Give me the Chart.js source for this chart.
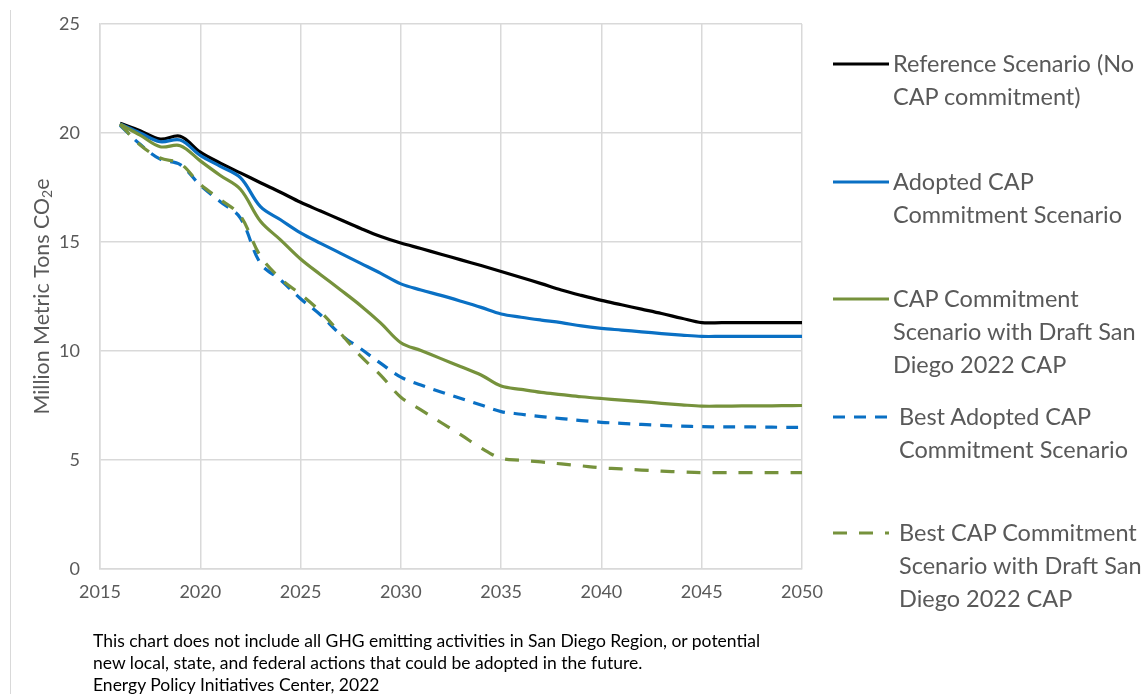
<!DOCTYPE html>
<html>
<head>
<meta charset="utf-8">
<script src="https://cdn.jsdelivr.net/npm/chart.js@4/dist/chart.umd.min.js"></script>
<style>
  html, body { margin: 0; padding: 0; background: #ffffff; }
  #wrap { position: relative; width: 1146px; height: 694px; overflow: hidden; font-family: Lato, "Open Sans", sans-serif; color: #595959; }
  #edge { position: absolute; left: 10px; top: 10px; height: 700px; border-left: 1px solid #d9d9d9; }
  #chart { position: absolute; left: 0; top: 0; }
  .entry { position: absolute; left: 833px; font-size: 23.5px; line-height: 33px; white-space: nowrap; }
  .entry svg { position: absolute; left: 0; top: 13px; }
  .entry .txt { position: absolute; left: 60px; top: 0; }
  .entry.dashed .txt { left: 66px; }
  #note { position: absolute; left: 93px; top: 630px; font-size: 17.5px; line-height: 22px; color: #000000; white-space: nowrap; }
</style>
</head>
<body>
<div id="wrap">
  <div id="edge"></div>
  <canvas id="chart" width="1146" height="694"></canvas>
  <div id="legend"></div>
  <div id="note"></div>
</div>
<script>
// Annual emissions, million metric tons CO2e, San Diego region
const years = [
  2016, 2017, 2018, 2019, 2020, 2021, 2022, 2023, 2024, 2025,
  2026, 2027, 2028, 2029, 2030, 2031, 2032, 2033, 2034, 2035,
  2036, 2037, 2038, 2039, 2040, 2041, 2042, 2043, 2044, 2045,
  2046, 2047, 2048, 2049, 2050
];

const referenceScenario = [
  20.45, 20.10, 19.72, 19.85, 19.12, 18.62, 18.17, 17.72, 17.28, 16.82,
  16.42, 16.02, 15.62, 15.25, 14.95, 14.70, 14.44, 14.18, 13.92, 13.65,
  13.37, 13.09, 12.80, 12.55, 12.32, 12.12, 11.92, 11.72, 11.50, 11.30,
  11.30, 11.30, 11.30, 11.30, 11.30
];

const adoptedCap = [
  20.42, 20.00, 19.60, 19.68, 18.97, 18.47, 17.95, 16.62, 16.02, 15.42,
  14.94, 14.48, 14.02, 13.56, 13.08, 12.80, 12.55, 12.28, 12.00, 11.70,
  11.55, 11.42, 11.30, 11.15, 11.04, 10.96, 10.88, 10.80, 10.73, 10.67,
  10.67, 10.67, 10.67, 10.67, 10.67
];

const draftCap = [
  20.40, 19.90, 19.37, 19.42, 18.72, 18.05, 17.42, 15.95, 15.10, 14.22,
  13.50, 12.80, 12.08, 11.28, 10.38, 10.02, 9.65, 9.28, 8.90, 8.39,
  8.24, 8.10, 8.00, 7.90, 7.82, 7.75, 7.68, 7.60, 7.53, 7.47,
  7.47, 7.48, 7.48, 7.49, 7.50
];

const bestAdoptedCap = [
  20.35, 19.48, 18.80, 18.55, 17.60, 16.85, 16.10, 14.02, 13.26, 12.40,
  11.65, 10.75, 10.10, 9.43, 8.80, 8.44, 8.12, 7.82, 7.52, 7.22,
  7.10, 6.99, 6.90, 6.81, 6.73, 6.68, 6.63, 6.59, 6.55, 6.53,
  6.52, 6.52, 6.51, 6.50, 6.50
];

const bestDraftCap = [
  20.40, 19.45, 18.85, 18.60, 17.65, 16.95, 16.20, 14.35, 13.32, 12.60,
  11.80, 10.80, 9.76, 8.88, 7.88, 7.30, 6.72, 6.15, 5.55, 5.08,
  4.99, 4.91, 4.82, 4.73, 4.64, 4.59, 4.54, 4.49, 4.45, 4.42,
  4.42, 4.42, 4.42, 4.42, 4.42
];

const xTickValues = [2015, 2020, 2025, 2030, 2035, 2040, 2045, 2050];
const yTickValues = [0, 5, 10, 15, 20, 25];

const seriesLabels = [
  ["Reference Scenario (No", "CAP commitment)"],
  ["Adopted CAP", "Commitment Scenario"],
  ["CAP Commitment", "Scenario with Draft San", "Diego 2022 CAP"],
  ["Best Adopted CAP", "Commitment Scenario"],
  ["Best CAP Commitment", "Scenario with Draft San", "Diego 2022 CAP"]
];

const noteLines = [
  "This chart does not include all GHG emitting activities in San Diego Region, or potential",
  "new local, state, and federal actions that could be adopted in the future.",
  "Energy Policy Initiatives Center, 2022"
];

const BLACK = '#000000';
const BLUE = '#0a70c4';
const GREEN = '#76923c';
const GRID = '#d9d9d9';
const TEXT = '#595959';

const seriesValues = [referenceScenario, adoptedCap, draftCap, bestAdoptedCap, bestDraftCap];
const seriesStyle = [
  { color: BLACK, dash: [] },
  { color: BLUE, dash: [] },
  { color: GREEN, dash: [] },
  { color: BLUE, dash: [12, 9] },
  { color: GREEN, dash: [14, 12] }
];

const datasets = seriesValues.map((vals, i) => ({
  label: seriesLabels[i].join(' '),
  data: years.map((yr, j) => ({ x: yr, y: vals[j] })),
  borderColor: seriesStyle[i].color,
  backgroundColor: seriesStyle[i].color,
  borderWidth: 3.2,
  borderDash: seriesStyle[i].dash,
  borderCapStyle: 'butt',
  borderJoinStyle: 'round',
  pointRadius: 0,
  tension: 0.35,
  fill: false,
  order: seriesValues.length - i
}));

// Rotated y-axis title with a subscript "2"
const yTitlePlugin = {
  id: 'yTitle',
  afterDraw(chart) {
    const { ctx, chartArea } = chart;
    const cy = (chartArea.top + chartArea.bottom) / 2;
    const parts = [
      { t: 'Million Metric Tons CO', size: 21.4, dy: 0 },
      { t: '2', size: 14, dy: 5 },
      { t: 'e', size: 21.4, dy: 0 }
    ];
    ctx.save();
    let total = 0;
    parts.forEach(p => { ctx.font = p.size + 'px Lato'; p.w = ctx.measureText(p.t).width; total += p.w; });
    ctx.translate(41, cy);
    ctx.rotate(-Math.PI / 2);
    ctx.fillStyle = TEXT;
    ctx.textBaseline = 'middle';
    ctx.textAlign = 'left';
    let x = -total / 2;
    parts.forEach(p => {
      ctx.font = p.size + 'px Lato';
      ctx.fillText(p.t, x, p.dy + 1);
      x += p.w;
    });
    ctx.restore();
  }
};

new Chart(document.getElementById('chart'), {
  type: 'line',
  data: { datasets },
  plugins: [yTitlePlugin],
  options: {
    responsive: false,
    animation: false,
    events: [],
    layout: { padding: { left: 0, top: 24, right: 344, bottom: 0 } },
    plugins: { legend: { display: false }, tooltip: { enabled: false } },
    scales: {
      x: {
        type: 'linear',
        min: 2015,
        max: 2050,
        afterBuildTicks: s => { s.ticks = xTickValues.map(v => ({ value: v })); },
        afterFit: s => { s.height = 125; },
        grid: { color: GRID, lineWidth: 1.5, drawTicks: false },
        border: { color: GRID, width: 1.5 },
        ticks: { color: TEXT, font: { family: 'Lato', size: 18 }, padding: 12, maxRotation: 0, callback: v => String(v) }
      },
      y: {
        min: 0,
        max: 25,
        afterBuildTicks: s => { s.ticks = yTickValues.map(v => ({ value: v })); },
        // fixed axis width; the outer layout padding already leaves room for the end labels
        afterFit: s => { s.width = 100; s.paddingTop = 0; s.paddingBottom = 0; },
        grid: { color: GRID, lineWidth: 1.5, drawTicks: false },
        border: { color: GRID, width: 1.5 },
        ticks: { color: TEXT, font: { family: 'Lato', size: 18 }, padding: 20, callback: v => String(v) }
      }
    }
  }
});

// Legend on the right
const legendTops = [63, 181, 298, 416, 532];
const legend = document.getElementById('legend');
seriesLabels.forEach((lines, i) => {
  const st = seriesStyle[i];
  const div = document.createElement('div');
  div.className = 'entry' + (st.dash.length ? ' dashed' : '');
  div.style.top = (legendTops[i] - 16) + 'px';
  const dash = st.dash.length ? ` stroke-dasharray="${st.dash.join(' ')}"` : '';
  div.innerHTML =
    `<svg width="58" height="8"><line x1="0" y1="4" x2="56" y2="4" stroke="${st.color}" stroke-width="3"${dash}/></svg>` +
    `<div class="txt">${lines.join('<br>')}</div>`;
  legend.appendChild(div);
});

document.getElementById('note').innerHTML = noteLines.join('<br>');
</script>
</body>
</html>
